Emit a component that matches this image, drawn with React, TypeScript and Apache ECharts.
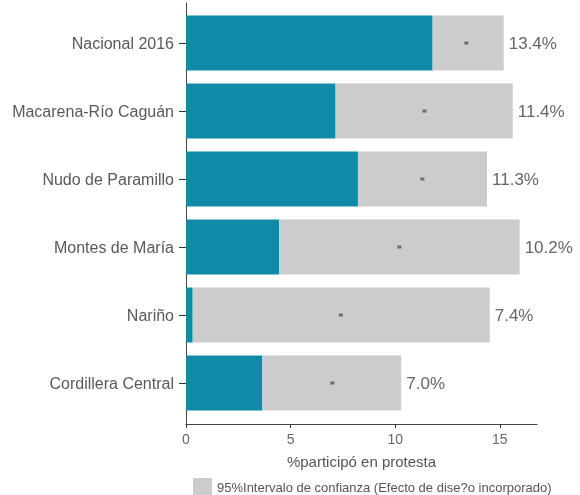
import React, { useEffect, useRef } from "react";
import * as echarts from "echarts";

const categories = [
  "Nacional 2016",
  "Macarena-Río Caguán",
  "Nudo de Paramillo",
  "Montes de María",
  "Nariño",
  "Cordillera Central",
];
const lowerCI = [11.79, 7.15, 8.22, 4.45, 0.32, 3.65];
const upperCI = [15.19, 15.62, 14.39, 15.95, 14.52, 10.29];
const estimate = [13.4, 11.4, 11.3, 10.2, 7.4, 7.0];
const xTicks = [0, 5, 10, 15];
const legendName = "95%Intervalo de confianza (Efecto de dise?o incorporado)";

const X_MAX = 16.78;
const TEAL = "#108aa6";
const GRAY = "#cccccc";

export default function App() {
  const ref = useRef<HTMLDivElement>(null);
  useEffect(() => {
    if (!ref.current) return;
    const chart = echarts.init(ref.current, null, { renderer: "svg" });
    const font = "Liberation Sans, Arial, sans-serif";
    chart.setOption({
      animation: false,
      textStyle: { fontFamily: font },
      grid: [
        { left: 186, right: 43, top: 9, height: 408 },
        { left: 186, right: 43, top: 3, height: 421 },
      ],
      xAxis: [
        { type: "value", gridIndex: 0, min: 0, max: X_MAX, show: false },
        {
          type: "value",
          gridIndex: 1,
          min: 0,
          max: X_MAX,
          interval: 5,
          axisLine: { show: true, lineStyle: { color: "#444", width: 1 } },
          axisTick: {
            show: true,
            length: 4,
            customValues: xTicks,
            lineStyle: { color: "#333" },
          },
          axisLabel: {
            customValues: xTicks,
            fontSize: 14,
            color: "#666",
            margin: 8,
            fontFamily: font,
          },
          splitLine: { show: false },
          name: "%participó en protesta",
          nameLocation: "middle",
          nameGap: 30,
          nameTextStyle: { fontSize: 15, color: "#555", fontFamily: font },
        },
      ],
      yAxis: [
        {
          type: "category",
          gridIndex: 0,
          data: categories,
          inverse: true,
          axisLine: { show: false },
          axisTick: {
            show: true,
            alignWithLabel: true,
            length: 7,
            lineStyle: { color: "#333" },
          },
          axisLabel: {
            fontSize: 16,
            color: "#595959",
            margin: 12,
            fontFamily: font,
          },
        },
        {
          type: "value",
          gridIndex: 1,
          min: 0,
          max: 1,
          axisLine: { show: true, lineStyle: { color: "#444", width: 1 } },
          axisTick: { show: false },
          axisLabel: { show: false },
          splitLine: { show: false },
        },
      ],
      legend: {
        data: [{ name: legendName, icon: "rect" }],
        left: 193,
        top: 478,
        padding: 0,
        itemWidth: 19,
        itemHeight: 18,
        itemGap: 6,
        textStyle: { fontSize: 13, color: "#555", fontFamily: font },
      },
      series: [
        {
          type: "bar",
          name: "lower",
          xAxisIndex: 0,
          yAxisIndex: 0,
          stack: "ci",
          barWidth: 55,
          data: lowerCI,
          itemStyle: { color: TEAL },
        },
        {
          type: "bar",
          name: legendName,
          xAxisIndex: 0,
          yAxisIndex: 0,
          stack: "ci",
          barWidth: 55,
          data: upperCI.map((u, i) => u - lowerCI[i]),
          itemStyle: { color: GRAY },
          label: {
            show: true,
            position: "right",
            distance: 5,
            formatter: (p: any) => estimate[p.dataIndex].toFixed(1) + "%",
            fontSize: 17,
            color: "#666",
            fontFamily: font,
          },
        },
        {
          type: "scatter",
          name: "estimate",
          xAxisIndex: 0,
          yAxisIndex: 0,
          symbol: "rect",
          symbolSize: [4, 3],
          data: estimate.map((v, i) => [v, categories[i]]),
          itemStyle: { color: "#555" },
          z: 5,
        },
      ],
    });
    return () => chart.dispose();
  }, []);
  return (
    <div
      ref={ref}
      style={{ position: "fixed", left: 0, top: 0, width: 580, height: 495 }}
    />
  );
}
